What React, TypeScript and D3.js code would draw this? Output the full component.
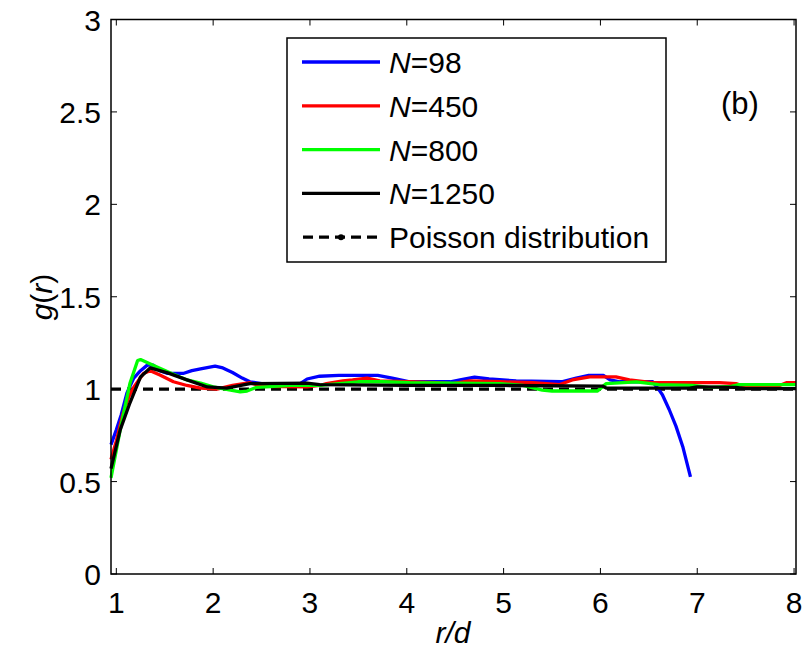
import React from "react";
import * as d3 from "d3";

const xTicks = [1, 2, 3, 4, 5, 6, 7, 8];
const yTicks = [0, 0.5, 1, 1.5, 2, 2.5, 3];
const yTickLabels = ["0", "0.5", "1", "1.5", "2", "2.5", "3"];

const seriesN98: [number, number][] = [
  [0.945, 0.7], [1.0, 0.78], [1.05, 0.86], [1.11, 0.98], [1.18, 1.06], [1.25, 1.1], [1.32, 1.13],
  [1.38, 1.13], [1.45, 1.1], [1.53, 1.085], [1.69, 1.085], [1.78, 1.1], [1.87, 1.11], [2.02, 1.125],
  [2.1, 1.115], [2.2, 1.09], [2.3, 1.06], [2.38, 1.04], [2.5, 1.03], [2.9, 1.03], [2.97, 1.055],
  [3.1, 1.07], [3.3, 1.075], [3.7, 1.075], [3.85, 1.06], [4.03, 1.04], [4.45, 1.04], [4.55, 1.05],
  [4.7, 1.065], [4.85, 1.055], [5.13, 1.045], [5.6, 1.04], [5.75, 1.06], [5.88, 1.075], [6.03, 1.075],
  [6.1, 1.05], [6.2, 1.04], [6.54, 1.04], [6.6, 1.0], [6.64, 0.97], [6.71, 0.89], [6.78, 0.8],
  [6.85, 0.69], [6.93, 0.525],
];
const seriesN450: [number, number][] = [
  [0.945, 0.62], [1.0, 0.72], [1.07, 0.87], [1.13, 0.96], [1.18, 1.01], [1.28, 1.085], [1.35, 1.1],
  [1.45, 1.077], [1.59, 1.04], [1.73, 1.02], [1.87, 1.006], [2.04, 1.0], [2.2, 1.02], [2.38, 1.035],
  [2.5, 1.015], [2.97, 1.012], [3.1, 1.02], [3.17, 1.03], [3.34, 1.045], [3.44, 1.05], [3.59, 1.06],
  [3.72, 1.045], [4.0, 1.04], [4.3, 1.035], [4.47, 1.03], [4.65, 1.045], [4.96, 1.04], [5.3, 1.035],
  [5.58, 1.025], [5.71, 1.05], [5.89, 1.066], [6.16, 1.066], [6.3, 1.05], [6.54, 1.035], [7.23, 1.035],
  [7.4, 1.03], [7.46, 1.02], [7.85, 1.02], [7.92, 1.035], [8.02, 1.035],
];
const seriesN800: [number, number][] = [
  [0.945, 0.52], [1.04, 0.78], [1.14, 1.03], [1.22, 1.155], [1.25, 1.16], [1.38, 1.13], [1.56, 1.088],
  [1.73, 1.05], [1.87, 1.033], [2.0, 1.012], [2.18, 0.995], [2.28, 0.985], [2.35, 0.99], [2.45, 1.01],
  [2.8, 1.02], [3.1, 1.02], [3.3, 1.03], [3.5, 1.04], [3.75, 1.04], [4.03, 1.035], [4.96, 1.03],
  [5.2, 1.02], [5.4, 0.995], [5.5, 0.99], [5.97, 0.99], [6.06, 1.03], [6.37, 1.04], [6.6, 1.025],
  [6.95, 1.02], [7.12, 1.01], [7.35, 1.015], [7.43, 1.025], [8.02, 1.025],
];
const seriesN1250: [number, number][] = [
  [0.945, 0.57], [1.04, 0.78], [1.14, 0.925], [1.25, 1.066], [1.35, 1.115], [1.53, 1.088], [1.73, 1.05],
  [1.94, 1.012], [2.14, 1.006], [2.38, 1.03], [2.97, 1.033], [3.1, 1.025], [4.0, 1.02], [5.0, 1.02],
  [6.02, 1.017], [6.06, 1.006], [6.92, 1.006], [7.0, 1.012], [7.4, 1.01], [7.5, 1.003], [8.02, 1.003],
];
const poissonLevel = 1;

const seriesNames = ["98", "450", "800", "1250"];
const seriesColors = ["#0000ff", "#ff0000", "#00ff00", "#000000"];
const seriesData = [seriesN98, seriesN450, seriesN800, seriesN1250];

const W = 810;
const H = 655;
const m = { left: 111, right: 796, top: 19.5, bottom: 574 };
const FONT = "Arial, 'Liberation Sans', sans-serif";

export default function App() {
  const x = d3.scaleLinear().domain([0.945, 8.02]).range([m.left, m.right]);
  const y = d3.scaleLinear().domain([0, 3]).range([m.bottom, m.top]);
  const line = d3
    .line<[number, number]>()
    .x((d) => x(d[0]))
    .y((d) => y(d[1]));

  const legX = 287;
  const legY = 38;
  const legW = 379;
  const legH = 224;
  const rowY = (i: number) => legY + 24 + i * 43.8;

  return (
    <svg
      width={W}
      height={H}
      style={{ position: "absolute", left: 0, top: 0, background: "#fff" }}
      fontFamily={FONT}
    >
      <rect x={0} y={0} width={W} height={H} fill="#fff" />
      <line
        x1={x(0.945)}
        x2={x(8.02)}
        y1={y(poissonLevel)}
        y2={y(poissonLevel)}
        stroke="#000"
        strokeWidth={3.2}
        strokeDasharray="10,6"
      />
      {seriesData.map((s, i) => (
        <path key={i} d={line(s) || ""} fill="none" stroke={seriesColors[i]} strokeWidth={3.3} strokeLinejoin="round" />
      ))}
      <rect x={m.left} y={m.top} width={m.right - m.left} height={m.bottom - m.top} fill="none" stroke="#000" strokeWidth={1.5} />
      {xTicks.map((t) => (
        <g key={"x" + t}>
          <line x1={x(t)} x2={x(t)} y1={m.bottom} y2={m.bottom - 6} stroke="#000" strokeWidth={1} />
          <line x1={x(t)} x2={x(t)} y1={m.top} y2={m.top + 6} stroke="#000" strokeWidth={1} />
          <text x={x(t)} y={613} fontSize={30} textAnchor="middle">
            {t}
          </text>
        </g>
      ))}
      {yTicks.map((t, i) => (
        <g key={"y" + t}>
          <line x1={m.left} x2={m.left + 6} y1={y(t)} y2={y(t)} stroke="#000" strokeWidth={1} />
          <line x1={m.right} x2={m.right - 6} y1={y(t)} y2={y(t)} stroke="#000" strokeWidth={1} />
          <text x={101} y={y(t) + 11} fontSize={30} textAnchor="end">
            {yTickLabels[i]}
          </text>
        </g>
      ))}
      <text x={453} y={643} fontSize={30} fontStyle="italic" textAnchor="middle">
        r/d
      </text>
      <text transform={`translate(52,${297}) rotate(-90)`} fontSize={30} textAnchor="middle">
        <tspan fontStyle="italic">g</tspan>(<tspan fontStyle="italic">r</tspan>)
      </text>
      <text x={740} y={114} fontSize={31} textAnchor="middle">
        (b)
      </text>
      <rect x={legX} y={legY} width={legW} height={legH} fill="#fff" stroke="#000" strokeWidth={1.5} />
      {seriesNames.map((n, i) => (
        <g key={"l" + n}>
          <line x1={302} x2={380} y1={rowY(i)} y2={rowY(i)} stroke={seriesColors[i]} strokeWidth={3.3} />
          <text x={389} y={rowY(i) + 11} fontSize={30}>
            <tspan fontStyle="italic">N</tspan>={n}
          </text>
        </g>
      ))}
      <line x1={302} x2={380} y1={rowY(4)} y2={rowY(4)} stroke="#000" strokeWidth={3.2} strokeDasharray="10,6" strokeDashoffset={-1} />
      <circle cx={341} cy={rowY(4)} r={3} fill="#000" />
      <text x={389} y={rowY(4) + 11} fontSize={30}>
        Poisson distribution
      </text>
    </svg>
  );
}
